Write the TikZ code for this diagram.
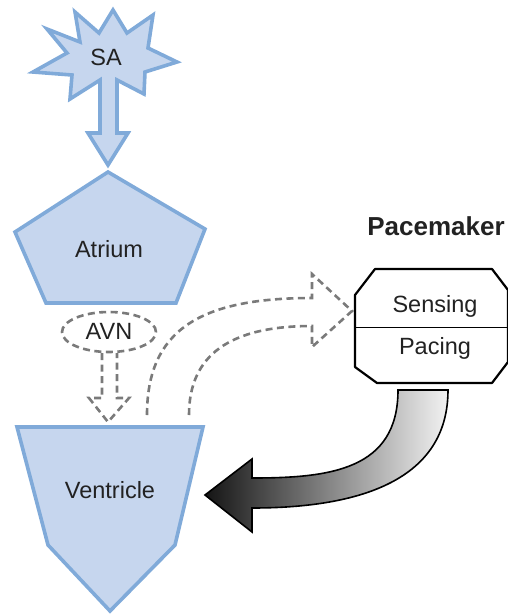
\documentclass[tikz,border=0pt]{standalone}
\usepackage{fontspec}
\usetikzlibrary{shapes.geometric}
\setmainfont{Liberation Sans}
\definecolor{bfill}{HTML}{C6D6EE}
\definecolor{bline}{HTML}{80AAD9}
\definecolor{dgray}{HTML}{7A7A7A}
\definecolor{txt}{HTML}{222222}
\begin{document}
\begin{tikzpicture}[x=1pt,y=-1pt,
  blueshape/.style={fill=bfill,draw=bline,line width=3.6pt,line join=miter},
  dashline/.style={draw=dgray,line width=2.6pt,dash pattern=on 7pt off 4.5pt},
  lbl/.style={text=txt,font=\fontsize{23.5}{26}\selectfont,inner sep=0pt,anchor=base},
  octo/.style={fill=white,draw=black,line width=2.2pt,line join=round}]
\useasboundingbox (0,0) rectangle (508,614);
% SA star with block arrow
\path[blueshape] (113,10) -- (127,33) -- (153,15) -- (148,48) -- (177,62) -- (145,72) -- (144,94)
  -- (117,80) -- (117,133) -- (128,133) -- (108,165) -- (88,133) -- (100,133) -- (100,80)
  -- (70,99) -- (72,75) -- (33,72) -- (67,53) -- (47,29) -- (80,42) -- (75,12) -- (99,33) -- cycle;
\node[lbl] (sa) at (106,65) {SA};
% Atrium
\path[blueshape] (108,172) -- (205,229) -- (176,303) -- (46,303) -- (15,232) -- cycle;
\node[lbl] (atrium) at (109,257) {Atrium};
% AVN
\node[ellipse,dashline,minimum width=94pt,minimum height=40pt] (avn) at (109,332) {};
\node[lbl] (avntext) at (109,339.5) {AVN};
% dashed down arrow
\path[dashline] (102,353) -- (102,398) -- (89,398) -- (108,422) -- (129,398) -- (117,398) -- (117,353);
% Ventricle
\path[blueshape] (17,427) -- (203,427) -- (175,545) -- (110,611) -- (48,545) -- cycle;
\node[lbl] (ventricle) at (110,498) {Ventricle};
% dashed curved arrow to pacemaker
\path[dashline] (147,415) .. controls (147,330) and (200,298) .. (312,298) -- (312,274) -- (352,311)
  -- (312,347) -- (312,326) .. controls (230,326) and (189,355) .. (189,415);
% Pacemaker
\node[font=\bfseries\fontsize{26}{28}\selectfont,inner sep=0pt,text=txt,anchor=base] (pm) at (436,235) {Pacemaker};
\path[octo] (355,295) -- (375,269) -- (492,269) -- (508,290) -- (508,362) -- (492,383) -- (377,383) -- (355,367) -- cycle;
\draw[line width=1pt] (355,327) -- (508,327);
\node[lbl] (sensing) at (435,312) {Sensing};
\node[lbl] (pacing) at (435,354.5) {Pacing};
% gradient arrow
\shade[left color=black!92, right color=black!5, draw=black, line width=1.6pt, line join=miter]
  (398,390) -- (448,390) .. controls (448,480) and (360,508) .. (252,508) -- (252,532) -- (205,495)
  -- (252,459) -- (252,478) .. controls (330,478) and (398,470) .. (398,390) -- cycle;
\end{tikzpicture}
\end{document}
